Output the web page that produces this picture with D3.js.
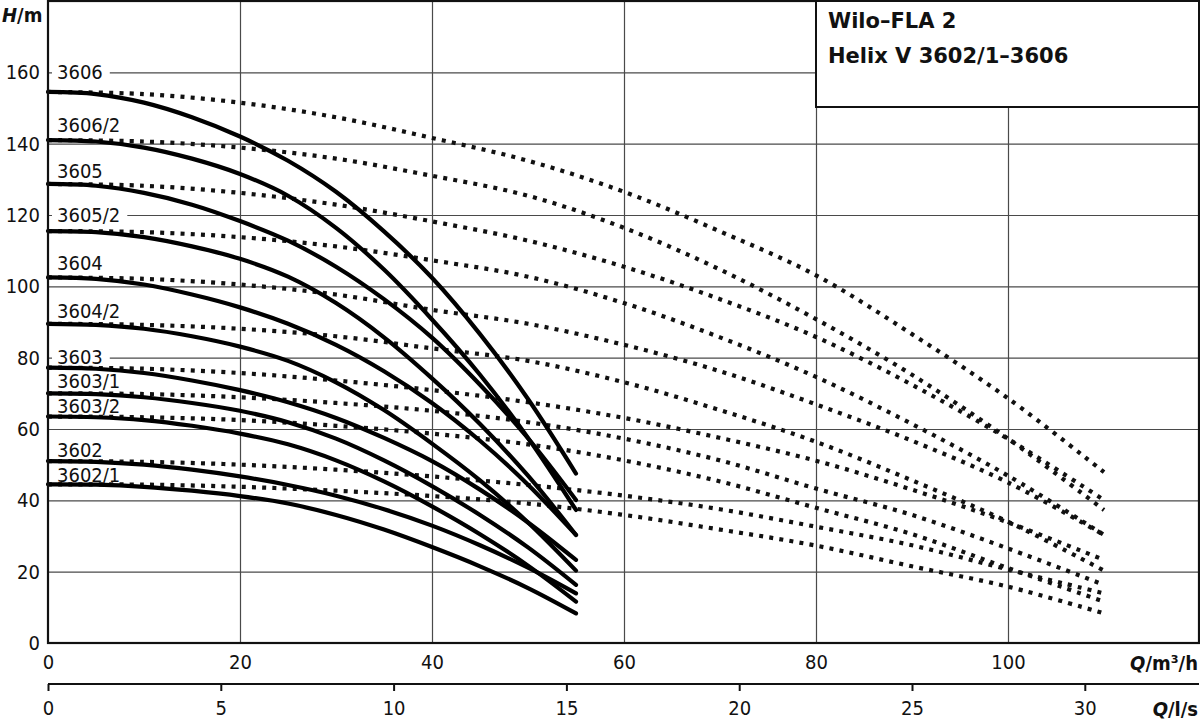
<!DOCTYPE html>
<html><head><meta charset="utf-8">
<script src="https://cdn.jsdelivr.net/npm/d3@7"></script>
<style>
html,body{margin:0;padding:0;background:#fff;}
svg{display:block;}
text{font-family:"DejaVu Sans Condensed","DejaVu Sans",sans-serif;font-stretch:condensed;fill:#111;}
</style></head><body>
<svg id="chart" width="1200" height="721"></svg>
<script>
// ---- data (Q in m3/h, H in m) ----
const flowSolid  = [0,5,10,15,20,25,30,35,40,45,50,55];
const flowDotted = [0,10,20,30,40,50,60,70,80,90,100,110];
const curveNames = ["3606","3606/2","3605","3605/2","3604","3604/2","3603","3603/1","3603/2","3602","3602/1"];

// single pump curves (solid)
const s3606   = [154.5,153.9,151.5,147.4,142.0,135.2,126.5,115.4,102.4,86.6,68.4,47.5];
const s3606_2 = [141.0,140.6,138.9,135.8,131.5,125.4,116.4,104.7,90.7,75.2,57.5,37.3];
const s3605   = [128.7,128.2,126.2,122.9,118.3,112.8,105.5,96.4,85.6,72.4,57.4,40.1];
const s3605_2 = [115.5,115.2,113.8,111.2,107.7,102.7,95.3,85.7,74.2,61.4,46.9,30.3];
const s3604   = [102.5,102.1,100.5,97.7,94.1,89.5,83.6,76.2,67.3,56.7,44.4,30.3];
const s3604_2 = [89.5,89.2,88.1,86.0,83.1,79.1,73.1,65.3,55.9,45.6,33.8,20.3];
const s3603   = [77.2,76.9,75.7,73.6,70.9,67.5,63.1,57.5,51.0,43.0,33.8,23.3];
const s3603_1 = [70.0,69.8,68.9,67.3,65.1,61.9,57.3,51.2,44.0,35.9,26.8,16.3];
const s3603_2 = [63.5,63.3,62.5,60.9,58.7,55.7,51.2,45.3,38.3,30.5,21.7,11.6];
const s3602   = [51.0,50.8,50.0,48.6,46.7,44.3,41.3,37.5,32.9,27.4,21.1,13.9];
const s3602_1 = [44.5,44.4,43.8,42.7,41.2,39.1,35.9,31.8,26.9,21.5,15.4,8.3];

// two pumps in parallel (dotted)
const d3606   = [154.5,153.9,151.5,147.4,141.6,135.2,126.5,115.4,103.1,86.6,68.6,47.9];
const d3606_2 = [141.0,140.6,138.9,135.8,131.0,125.4,116.4,104.7,90.8,75.2,57.3,37.3];
const d3605   = [128.7,128.2,126.2,122.9,118.2,112.8,105.5,96.4,85.8,72.4,57.2,40.1];
const d3605_2 = [115.5,115.2,113.8,111.2,107.3,102.7,95.3,85.7,74.6,61.4,46.9,30.3];
const d3604   = [102.5,102.1,100.5,97.7,93.4,89.5,83.6,76.2,66.9,56.7,45.0,30.3];
const d3604_2 = [89.5,89.2,88.1,86.0,82.6,79.1,73.1,65.3,56.4,45.6,34.0,20.3];
const d3603   = [77.2,76.9,75.7,73.6,70.9,67.5,63.1,57.5,51.1,43.0,33.8,23.3];
const d3603_1 = [70.0,69.8,68.9,67.3,65.1,61.9,57.3,51.2,43.3,35.9,26.5,16.3];
const d3603_2 = [63.5,63.3,62.5,60.9,58.7,55.7,51.2,45.3,37.9,30.5,21.0,11.6];
const d3602   = [51.0,50.8,50.0,48.6,46.7,44.3,41.3,37.5,32.6,27.4,20.6,13.9];
const d3602_1 = [44.5,44.4,43.8,42.7,41.2,39.1,35.9,31.8,27.3,21.5,15.8,8.3];

// curve label anchor heights (m)
const labelH = [158.0,143.4,130.5,117.9,104.5,91.1,78.1,71.4,64.4,52.1,45.1];

const yTicks   = [0,20,40,60,80,100,120,140,160];
const xTicksM3 = [0,20,40,60,80,100];
const xTicksLs = [0,5,10,15,20,25,30];
const titleLines = ["Wilo\u2013FLA 2","Helix V 3602/1\u20133606"];

const solidSeries  = [s3606,s3606_2,s3605,s3605_2,s3604,s3604_2,s3603,s3603_1,s3603_2,s3602,s3602_1];
const dottedSeries = [d3606,d3606_2,d3605,d3605_2,d3604,d3604_2,d3603,d3603_1,d3603_2,d3602,d3602_1];

// ---- layout ----
const L = 48, R = 1199, T = 1, B = 643;
const svg = d3.select("#chart");
const x = d3.scaleLinear().domain([0,120]).range([L,1200]);
const xLs = d3.scaleLinear().domain([0,120/3.6]).range([L,1200]);
const y = d3.scaleLinear().domain([0,180]).range([B,T]);

// gridlines
svg.append("g").attr("transform",`translate(${L},0)`)
  .call(d3.axisLeft(y).tickValues(yTicks.filter(v=>v>0)).tickSize(-(R-L)).tickFormat(""))
  .call(g=>g.select(".domain").remove())
  .selectAll("line").attr("stroke","#4a4a4a").attr("stroke-width",1.2);
svg.append("g").attr("transform",`translate(0,${B})`)
  .call(d3.axisBottom(x).tickValues(xTicksM3.filter(v=>v>0)).tickSize(-(B-T)).tickFormat(""))
  .call(g=>g.select(".domain").remove())
  .selectAll("line").attr("stroke","#4a4a4a").attr("stroke-width",1.2);

// curve labels with white backgrounds
const lab = svg.append("g");
curveNames.forEach((n,i)=>{
  const t = lab.append("text").attr("x",57).attr("y",y(labelH[i]))
    .attr("font-size",20).text(n);
  const bb = t.node().getBBox();
  lab.insert("rect","text").attr("x",bb.x-5).attr("y",bb.y+2).attr("width",bb.width+12)
    .attr("height",bb.height-3).attr("fill","#fff");
});

// curves
const line = d3.line().curve(d3.curveCatmullRom.alpha(0.5));
const dotG = svg.append("g");
dottedSeries.forEach(s=>{
  dotG.append("path").attr("d",line(s.map((h,i)=>[x(flowDotted[i]),y(h)])))
    .attr("fill","none").attr("stroke","#111").attr("stroke-width",4.2)
    .attr("stroke-dasharray","4,6.2");
});
const solG = svg.append("g");
solidSeries.forEach(s=>{
  solG.append("path").attr("d",line(s.map((h,i)=>[x(flowSolid[i]),y(h)])))
    .attr("fill","none").attr("stroke","#000").attr("stroke-width",4.2)
    .attr("stroke-linecap","round");
});

// frame
svg.append("rect").attr("x",L).attr("y",T).attr("width",R-L).attr("height",B-T)
  .attr("fill","none").attr("stroke","#111").attr("stroke-width",2.2);

// title box
svg.append("rect").attr("x",x(80)).attr("y",T).attr("width",R-x(80)).attr("height",106)
  .attr("fill","#fff").attr("stroke","#111").attr("stroke-width",2);
titleLines.forEach((t,i)=>{
  svg.append("text").attr("x",828).attr("y",28+i*35).attr("font-size",21)
    .attr("font-weight","bold").style("font-family","'DejaVu Sans',sans-serif")
    .style("font-stretch","normal").text(t);
});

// y tick labels
svg.append("g").attr("transform",`translate(${L},0)`)
  .call(d3.axisLeft(y).tickValues(yTicks).tickSize(0).tickPadding(8))
  .call(g=>g.select(".domain").remove())
  .selectAll("text").attr("font-size",20).attr("font-family",null);

// x (m3/h) tick labels
svg.append("g").attr("transform",`translate(0,${B})`)
  .call(d3.axisBottom(x).tickValues(xTicksM3).tickSize(0).tickPadding(12))
  .call(g=>g.select(".domain").remove())
  .selectAll("text").attr("font-size",20).attr("font-family",null);

// x (l/s) axis
const ls = svg.append("g").attr("transform",`translate(0,684)`)
  .call(d3.axisBottom(xLs).tickValues(xTicksLs).tickSize(7).tickPadding(10));
ls.select(".domain").attr("stroke","#111").attr("stroke-width",2.2).attr("d",`M${L},0H${R}`);
ls.selectAll(".tick line").attr("stroke","#111").attr("stroke-width",2);
ls.selectAll("text").attr("font-size",20).attr("font-family",null);

// axis titles
function axTitle(xp,yp,sym,unit,anchor){
  const t = svg.append("text").attr("x",xp).attr("y",yp).attr("font-size",20)
    .attr("font-weight","bold").attr("text-anchor",anchor);
  t.append("tspan").attr("font-style","italic").text(sym);
  t.append("tspan").text(unit);
}
axTitle(2,22,"H","/m","start");
axTitle(1198,670,"Q","/m\u00b3/h","end");
axTitle(1198,716,"Q","/l/s","end");
</script>
</body></html>
